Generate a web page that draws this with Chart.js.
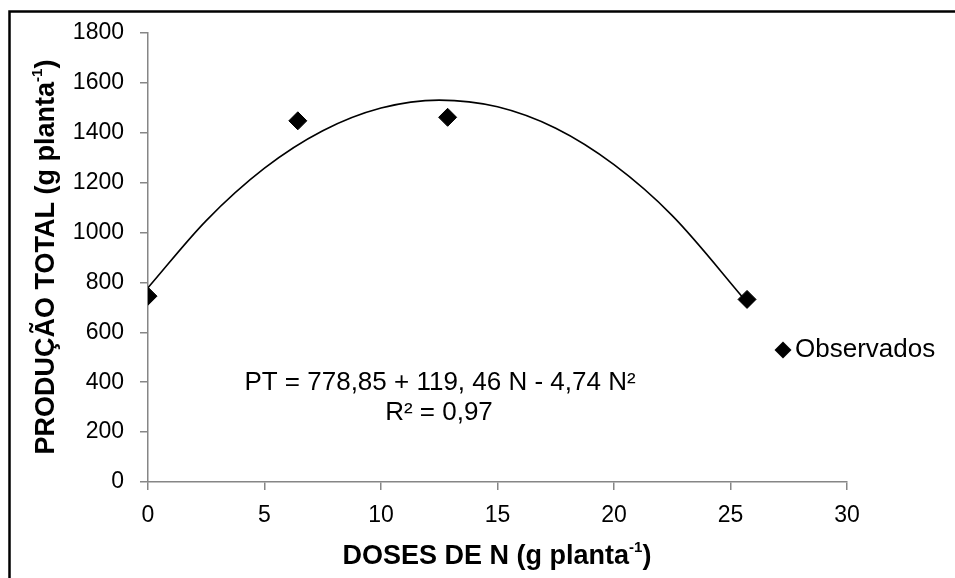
<!DOCTYPE html>
<html>
<head>
<meta charset="utf-8">
<script src="https://cdn.jsdelivr.net/npm/chart.js@4"></script>
<style>
  html, body { margin: 0; padding: 0; background: #fff; }
  #wrap { width: 955px; height: 578px; }
</style>
</head>
<body>
<div id="wrap"><canvas id="chart" width="955" height="578"></canvas></div>
<script>
// observed points
const dosesN = [0, 6.43, 12.86, 25.71];
const producao = [745, 1448, 1462, 732];
// fitted curve
const curveN = [0, 2.5, 5, 7.5, 10, 12.5, 15, 17.5, 20, 22.5, 25.71];
const curvePT = [779, 1048, 1258, 1408, 1499, 1531, 1504, 1418, 1272, 1068, 720];
const yTicks = [0, 200, 400, 600, 800, 1000, 1200, 1400, 1600, 1800];
const xTicks = [0, 5, 10, 15, 20, 25, 30];
const legendLabel = 'Observados';
const eqLine1 = 'PT = 778,85 + 119, 46 N - 4,74 N²';
const eqLine2 = 'R² = 0,97';

const axisGray = '#868686';
const TITLE_PX = 27;

// draws "main" + superscript "-1" + ")" centred on 0,0
function supTitle(ctx, main, sup, tail) {
  const big = 'bold ' + TITLE_PX + 'px "Liberation Sans", Arial, sans-serif';
  const small = 'bold 15px "Liberation Sans", Arial, sans-serif';
  ctx.font = big;
  const w1 = ctx.measureText(main).width;
  const w3 = ctx.measureText(tail).width;
  ctx.font = small;
  const w2 = ctx.measureText(sup).width;
  let x = -(w1 + w2 + w3) / 2;
  ctx.textBaseline = 'middle';
  ctx.textAlign = 'left';
  ctx.font = big;
  ctx.fillText(main, x, 0);
  x += w1;
  ctx.font = small;
  ctx.fillText(sup, x, -9);
  x += w2;
  ctx.font = big;
  ctx.fillText(tail, x, 0);
}

const extras = {
  id: 'extras',
  afterDraw(chart) {
    const ctx = chart.ctx;
    ctx.save();
    ctx.fillStyle = '#000';
    ctx.strokeStyle = '#000';
    // outer frame
    ctx.lineWidth = 2.5;
    ctx.strokeRect(9.5, 11.5, 980, 600);

    // y title
    ctx.save();
    ctx.translate(47, 257);
    ctx.rotate(-Math.PI / 2);
    supTitle(ctx, 'PRODUÇÃO TOTAL (g planta', '-1', ')');
    ctx.restore();

    // x title
    ctx.save();
    ctx.translate(497, 557);
    supTitle(ctx, 'DOSES DE N (g planta', '-1', ')');
    ctx.restore();

    // equation
    ctx.font = '26px "Liberation Sans", Arial, sans-serif';
    ctx.textAlign = 'center';
    ctx.textBaseline = 'middle';
    ctx.fillText(eqLine1, 440, 383);
    ctx.fillText(eqLine2, 439, 413);

    // legend
    const lx = 783, ly = 350, r = 8.5;
    ctx.beginPath();
    ctx.moveTo(lx - r, ly);
    ctx.lineTo(lx, ly - r);
    ctx.lineTo(lx + r, ly);
    ctx.lineTo(lx, ly + r);
    ctx.closePath();
    ctx.fill();
    ctx.textAlign = 'left';
    ctx.fillText(legendLabel, 795, 350);
    ctx.restore();
  }
};

new Chart(document.getElementById('chart'), {
  type: 'scatter',
  data: {
    datasets: [
      {
        label: 'curve',
        data: curveN.map((n, i) => ({ x: n, y: curvePT[i] })),
        showLine: true,
        borderColor: '#000',
        borderWidth: 1.6,
        pointRadius: 0,
        cubicInterpolationMode: 'monotone',
        fill: false
      },
      {
        label: legendLabel,
        data: dosesN.map((n, i) => ({ x: n, y: producao[i] })),
        pointStyle: 'rectRot',
        pointRadius: 9,
        pointBackgroundColor: '#000',
        pointBorderColor: '#000',
        pointBorderWidth: 1,
        showLine: false
      }
    ]
  },
  options: {
    responsive: false,
    animation: false,
    devicePixelRatio: 1,
    layout: { padding: { left: 0, right: 108, top: 33, bottom: 0 } },
    plugins: { legend: { display: false }, tooltip: { enabled: false } },
    scales: {
      x: {
        type: 'linear',
        min: 0,
        max: 30,
        afterBuildTicks: (s) => { s.ticks = xTicks.map(v => ({ value: v })); },
        afterFit: (s) => { s.height = 96; },
        grid: { drawOnChartArea: false, drawTicks: true, tickLength: 8, color: axisGray, lineWidth: 1.5 },
        border: { color: axisGray, width: 1.5 },
        ticks: {
          color: '#000',
          padding: 12,
          maxRotation: 0,
          callback: (v) => String(v),
          font: { family: '"Liberation Sans", Arial, sans-serif', size: 23 }
        }
      },
      y: {
        min: 0,
        max: 1800,
        afterBuildTicks: (s) => { s.ticks = yTicks.map(v => ({ value: v })); },
        afterFit: (s) => { s.width = 148; },
        grid: { drawOnChartArea: false, drawTicks: true, tickLength: 8, color: axisGray, lineWidth: 1.5 },
        border: { color: axisGray, width: 1.5 },
        ticks: {
          color: '#000',
          padding: 16,
          callback: (v) => String(v),
          font: { family: '"Liberation Sans", Arial, sans-serif', size: 23 }
        }
      }
    }
  },
  plugins: [extras]
});
</script>
</body>
</html>
